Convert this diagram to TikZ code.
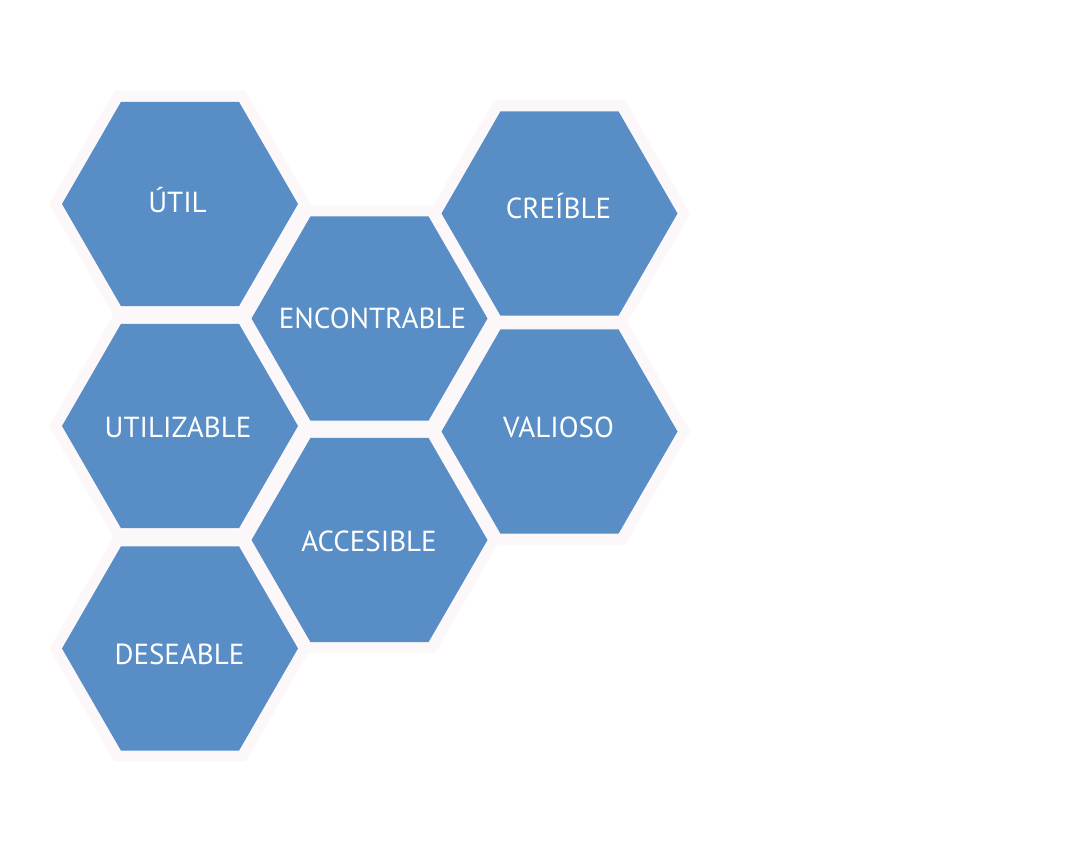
\documentclass[tikz,border=0pt]{standalone}
\usepackage{fontspec}
\setmainfont{PT Sans}
\usetikzlibrary{shapes.geometric}
\definecolor{hexblue}{RGB}{88,141,198}
\definecolor{halo}{RGB}{252,248,250}
\tikzset{
  hexhalo/.style={regular polygon, regular polygon sides=6, minimum size=236pt, inner sep=0pt, draw=halo, fill=halo, line width=22pt, line join=miter},
  hexcell/.style={regular polygon, regular polygon sides=6, minimum size=236pt, inner sep=0pt, fill=hexblue},
  hexlabel/.style={anchor=base, text=white, font=\fontsize{29}{29}\selectfont, inner sep=0pt}
}
\begin{document}
\begin{tikzpicture}[x=1pt,y=-1pt]
\useasboundingbox (0,0) rectangle (1065,841);
\fill[white] (0,0) rectangle (1065,841);
% halos
\foreach \n/\x/\y in {hu/180/204, hz/180/426, hd/180/648.5, he/369.5/318.5, ha/369.5/540, hc/559.5/213.5, hv/559.5/431.5}
  \node[hexhalo] (\n) at (\x,\y) {};
% cells
\node[hexcell] (util) at (180,204) {};
\node[hexcell] (utilizable) at (180,426) {};
\node[hexcell] (deseable) at (180,648.5) {};
\node[hexcell] (encontrable) at (369.5,318.5) {};
\node[hexcell] (accesible) at (369.5,540) {};
\node[hexcell] (creible) at (559.5,213.5) {};
\node[hexcell] (valioso) at (559.5,431.5) {};
% labels
\node[hexlabel] (tutil) at (177.5,212) {ÚTIL};
\node[hexlabel] (tutilizable) at (178,437) {UTILIZABLE};
\node[hexlabel] (tdeseable) at (179.5,664) {DESEABLE};
\node[hexlabel] (tencontrable) at (372.5,328) {ENCONTRABLE};
\node[hexlabel] (taccesible) at (369,551) {ACCESIBLE};
\node[hexlabel] (tcreible) at (558.5,218) {CREÍBLE};
\node[hexlabel] (tvalioso) at (558.5,437) {VALIOSO};
\end{tikzpicture}
\end{document}
